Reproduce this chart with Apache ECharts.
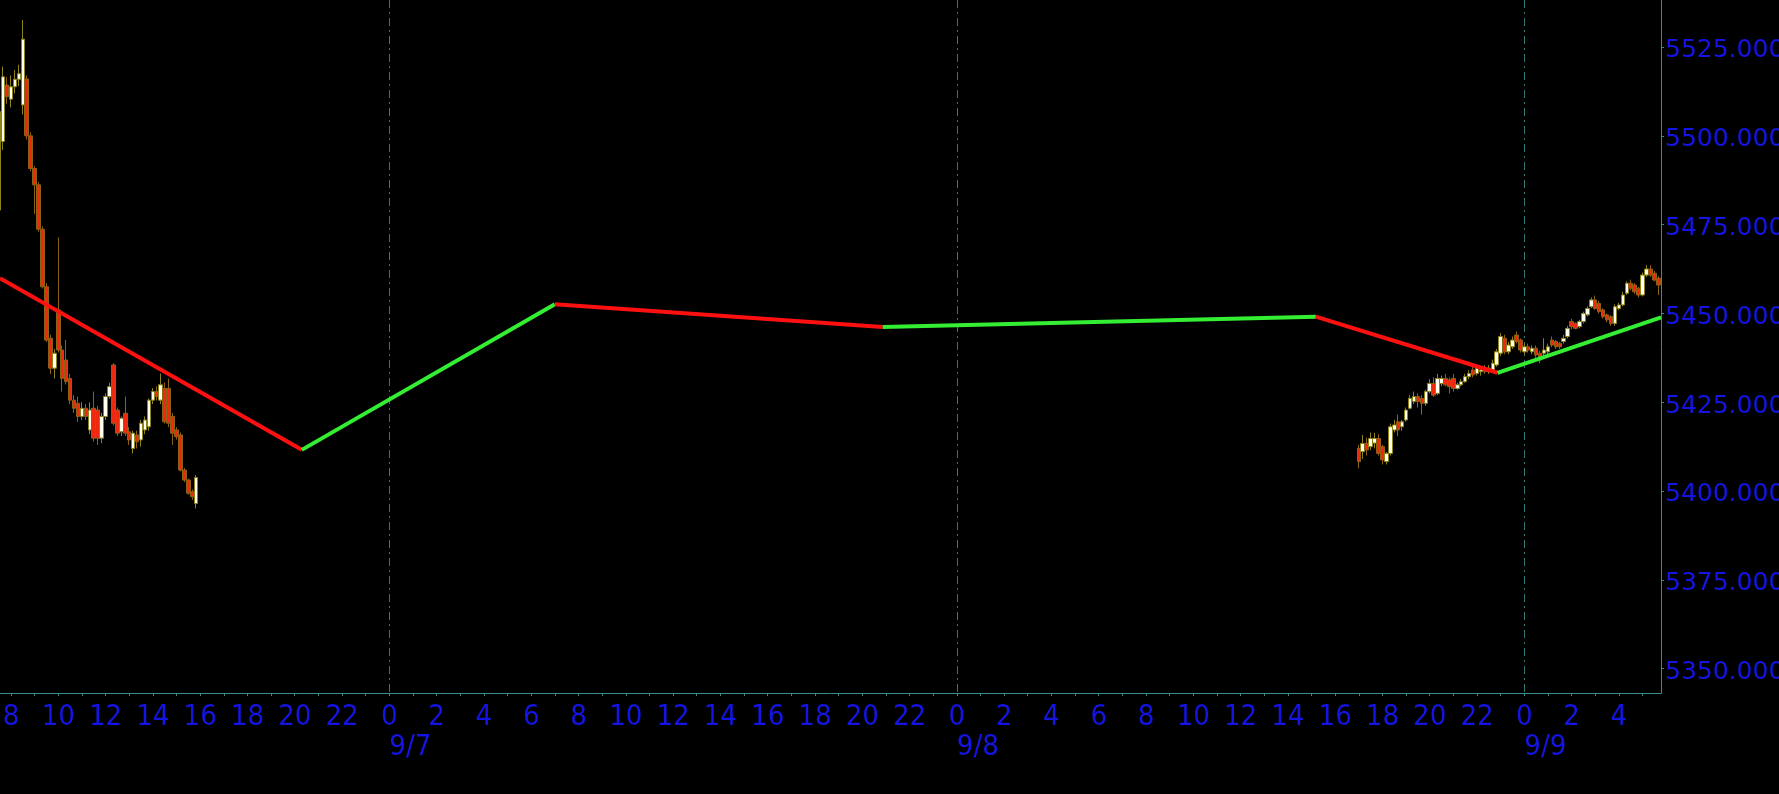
<!DOCTYPE html>
<html><head><meta charset="utf-8">
<script src="https://cdn.jsdelivr.net/npm/echarts@6/dist/echarts.min.js"></script>
<style>html,body{margin:0;padding:0;background:#000;}#c{width:1779px;height:794px;}</style>
</head><body><div id="c"></div>
<script>
// ---------- DATA ----------
const fridayDate = '2024-09-06';
const fridayTimes = ['07:30','07:40','07:50','08:00','08:10','08:20','08:30','08:40','08:50',
  '09:00','09:10','09:20','09:30','09:40','09:50','10:00','10:10','10:20','10:30','10:40','10:50',
  '11:00','11:10','11:20','11:30','11:40','11:50','12:00','12:10','12:20','12:30','12:40','12:50',
  '13:00','13:10','13:20','13:30','13:40','13:50','14:00','14:10','14:20','14:30','14:40','14:50',
  '15:00','15:10','15:20','15:30','15:40','15:50'];
const fridayOpen  = [5479.1,5498.4,5514.3,5510.3,5513.8,5515.9,5508.7,5516.0,5500.0,
  5490.8,5486.2,5473.7,5457.5,5443.0,5434.6,5451.0,5439.7,5436.9,5431.7,5425.6,5424.7,
  5421.0,5423.3,5417.2,5423.3,5422.8,5414.9,5421.0,5426.6,5435.5,5422.8,5416.7,5421.9,
  5416.7,5412.0,5415.8,5414.4,5417.2,5418.1,5425.6,5428.0,5425.6,5428.9,5428.9,5421.0,
  5417.2,5415.8,5405.9,5403.1,5399.8,5396.5];
const fridayClose = [5506.8,5516.6,5511.0,5513.8,5515.9,5517.5,5527.2,5500.0,5490.8,
  5486.2,5473.7,5457.5,5442.5,5434.6,5438.8,5439.7,5431.7,5430.8,5425.6,5423.3,5421.0,
  5423.3,5421.0,5422.8,5414.9,5414.9,5421.0,5426.6,5429.4,5419.1,5416.3,5420.5,5416.3,
  5414.4,5416.3,5413.9,5419.1,5420.0,5425.6,5428.0,5426.6,5429.9,5419.5,5419.1,5416.3,
  5415.3,5405.9,5403.1,5399.4,5398.4,5403.8];
const fridayLow   = [5476.0,5496.0,5509.0,5508.0,5512.0,5514.0,5506.0,5499.0,5490.0,
  5478.0,5473.0,5457.0,5442.0,5433.0,5431.7,5439.0,5428.0,5430.0,5424.5,5422.0,5419.5,
  5420.0,5420.0,5416.0,5414.0,5413.0,5413.5,5420.0,5426.0,5418.5,5415.5,5415.5,5415.5,
  5413.0,5410.6,5412.0,5412.5,5416.0,5417.0,5424.5,5425.5,5424.5,5419.0,5418.0,5413.0,
  5414.5,5405.5,5402.5,5399.0,5397.5,5395.1];
const fridayHigh  = [5510.0,5519.5,5516.5,5517.0,5518.5,5520.0,5532.6,5517.0,5501.0,
  5491.5,5487.0,5474.5,5458.5,5444.0,5440.0,5471.4,5441.0,5442.5,5433.0,5427.0,5426.6,
  5425.0,5424.5,5425.0,5428.0,5424.0,5422.0,5427.5,5430.5,5436.0,5423.5,5421.0,5426.6,
  5418.0,5417.0,5417.0,5420.0,5421.0,5426.0,5429.0,5429.5,5433.1,5430.5,5431.7,5422.0,
  5418.0,5416.5,5406.5,5403.5,5400.5,5404.5];

const sundayDate = '2024-09-08';
const sundayTimes = ['17:00','17:10','17:20','17:30','17:40','17:50','18:00','18:10','18:20','18:30','18:40','18:50',
  '19:00','19:10','19:20','19:30','19:40','19:50','20:00','20:10','20:20','20:30','20:40','20:50',
  '21:00','21:10','21:20','21:30','21:40','21:50','22:00','22:10','22:20','22:30','22:40','22:50',
  '23:00','23:10','23:20','23:30','23:40','23:50'];
const mondayDate = '2024-09-09';
const mondayTimes = ['00:00','00:10','00:20','00:30','00:40','00:50','01:00','01:10','01:20','01:30','01:40','01:50',
  '02:00','02:10','02:20','02:30','02:40','02:50','03:00','03:10','03:20','03:30','03:40','03:50',
  '04:00','04:10','04:20','04:30','04:40','04:50','05:00','05:10','05:20','05:30','05:40'];
const sessionOpen  = [5412.0,5411.1,5413.4,5412.5,5413.5,5414.8,5412.5,5408.3,5410.6,5417.2,5419.5,5418.1,
  5420.0,5423.3,5425.2,5426.6,5426.1,5424.7,5428.0,5430.3,5427.5,5430.3,5431.7,5431.3,
  5431.7,5428.9,5429.9,5430.8,5432.2,5434.1,5433.1,5433.6,5434.6,5433.6,5434.1,5435.5,
  5438.8,5443.0,5439.2,5440.6,5443.9,5442.5,
  5439.2,5440.6,5439.2,5440.2,5438.8,5438.8,5439.2,5442.5,5442.1,5441.6,5442.1,5443.5,
  5447.7,5447.2,5446.3,5447.7,5449.6,5451.9,5453.8,5452.8,5451.0,5449.6,5449.1,5447.2,
  5451.4,5452.4,5455.7,5458.5,5458.0,5457.1,5455.2,5460.8,5462.5,5461.3,5459.9];
const sessionClose = [5408.3,5413.4,5411.6,5414.8,5414.8,5410.6,5408.8,5410.6,5418.1,5418.6,5417.2,5419.5,
  5422.8,5426.1,5426.6,5425.2,5424.7,5428.0,5430.3,5427.0,5431.7,5431.7,5429.9,5429.4,
  5428.9,5429.9,5430.8,5432.2,5433.1,5432.7,5434.6,5434.1,5433.6,5434.6,5436.0,5439.2,
  5443.5,5439.2,5441.1,5442.5,5442.1,5439.7,
  5440.6,5439.7,5440.2,5438.3,5436.9,5439.7,5440.6,5441.1,5440.6,5440.6,5443.0,5445.8,
  5446.3,5445.8,5447.7,5450.0,5451.4,5453.8,5451.4,5450.5,5449.1,5448.2,5447.2,5451.9,
  5452.4,5455.2,5458.5,5457.1,5456.1,5455.2,5460.8,5462.5,5460.8,5459.4,5458.0];
const sessionLow   = [5406.4,5409.0,5410.0,5411.5,5412.0,5410.0,5407.5,5407.5,5410.0,5416.5,5415.5,5417.0,
  5419.5,5423.0,5424.5,5423.5,5421.5,5424.0,5427.5,5426.5,5427.0,5429.5,5429.5,5427.5,
  5428.0,5428.5,5429.5,5430.5,5431.5,5432.0,5432.5,5432.5,5433.0,5433.0,5433.5,5435.0,
  5438.0,5438.5,5438.5,5440.0,5441.5,5439.0,
  5438.5,5439.0,5438.5,5437.5,5436.0,5438.0,5438.5,5440.5,5440.0,5440.0,5441.5,5443.0,
  5445.5,5445.5,5445.8,5447.2,5449.2,5451.5,5451.0,5450.0,5448.5,5447.5,5446.5,5446.5,
  5451.0,5452.0,5455.2,5456.5,5455.5,5454.5,5454.8,5460.3,5460.3,5459.0,5455.2];
const sessionHigh  = [5413.0,5415.8,5415.0,5416.5,5416.4,5416.0,5413.0,5411.0,5419.0,5420.0,5421.5,5420.0,
  5423.5,5427.0,5428.0,5427.5,5427.0,5428.5,5431.5,5432.0,5433.0,5432.5,5433.0,5432.0,
  5433.0,5430.5,5431.5,5433.0,5434.0,5435.0,5435.5,5435.0,5435.5,5435.5,5437.0,5440.0,
  5444.5,5444.0,5442.0,5443.5,5444.9,5443.0,
  5441.5,5441.5,5441.0,5441.0,5439.5,5443.0,5441.5,5443.5,5442.5,5442.0,5444.0,5446.5,
  5448.5,5447.5,5448.2,5450.5,5452.0,5454.5,5455.0,5453.5,5451.5,5450.0,5449.5,5452.5,
  5453.0,5456.1,5459.0,5459.5,5458.5,5457.5,5461.5,5463.6,5463.6,5462.0,5460.5];

const zigzagTimes  = ['2024-09-06 07:32','2024-09-06 20:18','2024-09-07 07:00','2024-09-07 20:52',
                      '2024-09-08 15:11','2024-09-08 22:52','2024-09-09 05:47'];
const zigzagValues = [5459.9, 5411.6, 5452.6, 5446.2, 5449.1, 5433.3, 5448.9];

const priceTicks = [5350, 5375, 5400, 5425, 5450, 5475, 5500, 5525];
const dayDates  = ['2024-09-07', '2024-09-08', '2024-09-09'];
const dayLabels = ['9/7', '9/8', '9/9'];

// ---------- helpers ----------
const BASE = Date.UTC(2024, 8, 6);
function toHours(date, hm) {
  const [y, mo, d] = date.split('-').map(Number);
  const [h, m] = hm.split(':').map(Number);
  return (Date.UTC(y, mo - 1, d, h, m) - BASE) / 3600000;
}
const candles = [];
fridayTimes.forEach((t, i) => candles.push([toHours(fridayDate, t), fridayOpen[i], fridayClose[i], fridayLow[i], fridayHigh[i]]));
const sessionTimes = sundayTimes.map(t => [sundayDate, t]).concat(mondayTimes.map(t => [mondayDate, t]));
sessionTimes.forEach((dt, i) => candles.push([toHours(dt[0], dt[1]), sessionOpen[i], sessionClose[i], sessionLow[i], sessionHigh[i]]));

const zz = zigzagTimes.map((s, i) => { const p = s.split(' '); return [toHours(p[0], p[1]), zigzagValues[i]]; });
const dayTicks = dayDates.map(d => toHours(d, '00:00'));

const X_MIN = 7.536, X_MAX = 77.781;      // visible time window (hours from 9/6 00:00)
const Y_MIN = 5343.16, Y_MAX = 5538.23;   // visible price window
const LABEL_SHIFT = 1.1;                  // price labels sit slightly below their ticks
const hourTicks = [], hourLabels = [];
for (let h = Math.ceil(X_MIN); h <= X_MAX; h++) { hourTicks.push(h); if (h % 2 === 0) hourLabels.push(h); }

const BLUE = '#1414e4', TEAL = '#3c8c8c';
const XFONT = '"Liberation Sans Narrow", "DejaVu Sans Condensed", "Liberation Sans", sans-serif';
const YFONT = '"DejaVu Sans", Verdana, sans-serif';
const zzSeries = [];
for (let i = 0; i < zz.length - 1; i++) {
  const down = zz[i + 1][1] < zz[i][1];
  zzSeries.push({
    type: 'line', data: [zz[i], zz[i + 1]], symbol: 'none', z: 5, silent: true,
    lineStyle: { color: down ? '#ff1010' : '#33ee33', width: 4 }
  });
}

const chart = echarts.init(document.getElementById('c'), null, { renderer: 'canvas' });
chart.setOption({
  backgroundColor: '#000',
  animation: false,
  grid: { left: 0, right: 118, top: 0, bottom: 101, containLabel: false, outerBoundsMode: 'none' },
  xAxis: [{
    type: 'value', min: X_MIN, max: X_MAX, position: 'bottom',
    axisLine: { show: true, onZero: false, lineStyle: { color: TEAL, width: 1 } },
    axisTick: { show: true, length: 3, customValues: hourTicks, lineStyle: { color: TEAL } },
    axisLabel: { customValues: hourLabels, formatter: v => String(Math.round(v) % 24),
      color: BLUE, fontSize: 29, margin: 10, fontFamily: XFONT },
    splitLine: { show: false }
  }, {
    type: 'value', min: X_MIN, max: X_MAX, position: 'bottom', gridIndex: 0,
    axisLine: { show: false, onZero: false },
    axisTick: { show: false, customValues: dayTicks },
    axisLabel: { customValues: dayTicks, formatter: v => dayLabels[dayTicks.indexOf(v)] || '',
      align: 'left', color: BLUE, fontSize: 29, margin: 40, fontFamily: XFONT },
    splitLine: { show: true, lineStyle: { color: '#2f7878', width: 1, type: [8, 4, 2, 4] } }
  }],
  yAxis: [{
    type: 'value', position: 'right', min: Y_MIN, max: Y_MAX,
    axisLine: { show: true, onZero: false, lineStyle: { color: TEAL, width: 1 } },
    axisTick: { show: true, length: 3, customValues: priceTicks, lineStyle: { color: TEAL } },
    axisLabel: { show: false },
    splitLine: { show: false }
  }, {
    type: 'value', position: 'right', min: Y_MIN + LABEL_SHIFT, max: Y_MAX + LABEL_SHIFT,
    axisLine: { show: false, onZero: false },
    axisTick: { show: false, customValues: priceTicks },
    axisLabel: { customValues: priceTicks, formatter: v => Number(v).toFixed(4),
      color: BLUE, fontSize: 25, margin: 4, fontFamily: YFONT },
    splitLine: { show: false }
  }],
  series: [{
    type: 'candlestick', data: candles, barWidth: 4, z: 3, silent: true,
    itemStyle: { color: '#fffff0', color0: '#f02810', borderColor: '#8d8318', borderColor0: '#8a6414', borderWidth: 1 }
  }].concat(zzSeries)
});
</script></body></html>
